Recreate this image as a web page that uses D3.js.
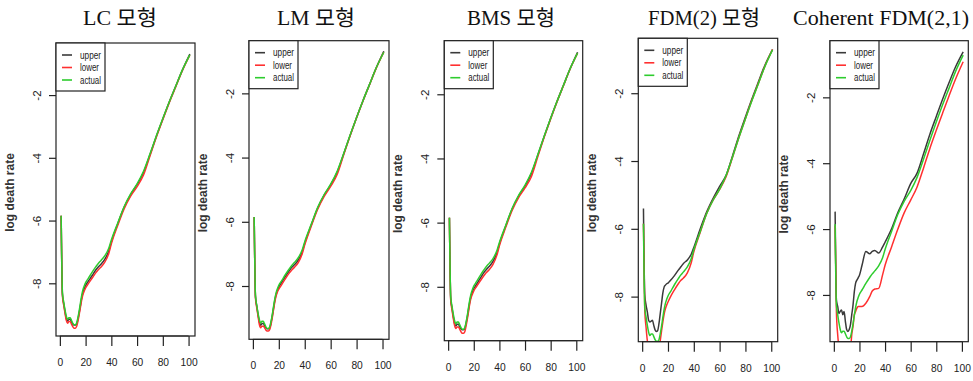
<!DOCTYPE html>
<html><head><meta charset="utf-8">
<script src="https://cdn.jsdelivr.net/npm/d3@7"></script>
<style>body{margin:0;background:#fff}svg{display:block}</style>
</head><body>
<svg id="c" width="973" height="381"></svg>
<script>
// ---------- data ----------
const ages = [1,2,3,4,5,6,7,8,9,10,11,12,13,14,15,16,17,18,19,20,22,25,28,30,32,35,38,40,45,50,55,60,65,70,75,80,85,90,95,101];
const actual = [-5.85,-8.3,-8.6,-8.85,-9.05,-9.15,-9.1,-9.1,-9.18,-9.27,-9.32,-9.32,-9.27,-9.1,-8.88,-8.62,-8.38,-8.2,-8.08,-7.98,-7.85,-7.65,-7.47,-7.36,-7.27,-7.12,-6.88,-6.62,-6.08,-5.55,-5.15,-4.83,-4.43,-3.88,-3.3,-2.75,-2.22,-1.72,-1.22,-0.72];

const upperLC = [-5.85,-8.35,-8.65,-8.9,-9.12,-9.2,-9.15,-9.15,-9.23,-9.3,-9.33,-9.33,-9.3,-9.15,-8.94,-8.7,-8.46,-8.28,-8.16,-8.07,-7.94,-7.76,-7.57,-7.47,-7.39,-7.23,-6.97,-6.68,-6.1,-5.57,-5.17,-4.85,-4.47,-3.9,-3.31,-2.76,-2.22,-1.72,-1.22,-0.69];
const lowerLC = [-5.85,-8.4,-8.7,-8.95,-9.18,-9.27,-9.22,-9.22,-9.3,-9.38,-9.43,-9.43,-9.38,-9.22,-9.0,-8.76,-8.52,-8.35,-8.24,-8.15,-8.02,-7.84,-7.66,-7.56,-7.48,-7.32,-7.05,-6.74,-6.15,-5.62,-5.22,-4.92,-4.55,-3.94,-3.34,-2.78,-2.24,-1.74,-1.24,-0.73];

const upperLM = [-5.85,-8.33,-8.63,-8.9,-9.12,-9.22,-9.17,-9.16,-9.24,-9.3,-9.33,-9.33,-9.3,-9.14,-8.92,-8.67,-8.43,-8.25,-8.13,-8.03,-7.9,-7.71,-7.53,-7.42,-7.34,-7.19,-6.94,-6.67,-6.1,-5.57,-5.17,-4.85,-4.46,-3.89,-3.31,-2.75,-2.22,-1.72,-1.22,-0.69];
const lowerLM = [-5.85,-8.38,-8.68,-8.95,-9.2,-9.3,-9.25,-9.25,-9.3,-9.37,-9.4,-9.4,-9.35,-9.2,-8.98,-8.72,-8.48,-8.3,-8.18,-8.1,-7.97,-7.78,-7.6,-7.5,-7.42,-7.27,-7.0,-6.72,-6.14,-5.61,-5.21,-4.9,-4.53,-3.92,-3.32,-2.76,-2.23,-1.73,-1.23,-0.72];

const upperBMS = [-5.85,-8.36,-8.66,-8.92,-9.14,-9.22,-9.17,-9.17,-9.25,-9.31,-9.34,-9.34,-9.3,-9.14,-8.93,-8.68,-8.44,-8.27,-8.15,-8.06,-7.93,-7.74,-7.55,-7.45,-7.37,-7.21,-6.95,-6.67,-6.1,-5.57,-5.17,-4.86,-4.47,-3.89,-3.31,-2.75,-2.22,-1.72,-1.22,-0.69];
const lowerBMS = [-5.85,-8.42,-8.72,-8.98,-9.2,-9.3,-9.25,-9.25,-9.32,-9.4,-9.45,-9.45,-9.4,-9.22,-9.0,-8.75,-8.5,-8.33,-8.22,-8.13,-8.0,-7.82,-7.65,-7.55,-7.47,-7.3,-7.02,-6.72,-6.14,-5.61,-5.22,-4.92,-4.56,-3.94,-3.33,-2.77,-2.23,-1.73,-1.23,-0.72];

const upperFDM = [-5.4,-7.95,-8.25,-8.45,-8.7,-8.75,-8.72,-8.7,-8.85,-8.98,-9.03,-9.0,-8.8,-8.5,-8.2,-7.9,-7.72,-7.66,-7.62,-7.6,-7.52,-7.38,-7.22,-7.12,-7.02,-6.92,-6.75,-6.55,-6.0,-5.5,-5.1,-4.75,-4.42,-3.85,-3.25,-2.7,-2.17,-1.67,-1.18,-0.71];
const lowerFDM = [-5.85,-8.4,-8.9,-9.3,-9.5,-9.6,-9.58,-9.55,-9.6,-9.65,-9.68,-9.66,-9.55,-9.3,-9.02,-8.75,-8.52,-8.36,-8.25,-8.16,-8.0,-7.8,-7.62,-7.52,-7.45,-7.3,-7.0,-6.68,-6.1,-5.55,-5.15,-4.84,-4.46,-3.89,-3.3,-2.75,-2.21,-1.71,-1.21,-0.71];

const upperCFDM = [-5.47,-8.15,-8.35,-8.56,-8.5,-8.46,-8.6,-8.5,-8.8,-9.05,-9.11,-9.05,-8.9,-8.6,-8.3,-7.9,-7.64,-7.55,-7.48,-7.4,-7.1,-6.68,-6.75,-6.68,-6.65,-6.73,-6.55,-6.4,-6.0,-5.5,-5.08,-4.62,-4.3,-3.72,-3.12,-2.58,-2.05,-1.55,-1.08,-0.62];
const lowerCFDM = [-5.9,-8.5,-9.2,-9.6,-9.8,-9.9,-9.85,-9.85,-9.9,-10.0,-10.0,-9.9,-9.7,-9.2,-8.95,-8.6,-8.5,-8.4,-8.35,-8.35,-8.35,-8.25,-8.05,-7.88,-7.82,-7.8,-7.4,-7.1,-6.55,-6.0,-5.5,-5.12,-4.72,-4.15,-3.55,-3.0,-2.47,-1.95,-1.45,-0.92];

const titles = ["LC  모형", "LM  모형", "BMS  모형", "FDM(2)  모형", "Coherent  FDM(2,1)"];
const uppers = [upperLC, upperLM, upperBMS, upperFDM, upperCFDM];
const lowers = [lowerLC, lowerLM, lowerBMS, lowerFDM, lowerCFDM];
const xTicks = [0, 20, 40, 60, 80, 100];
const yTicks = [-2, -4, -6, -8];
const legendLabels = ["upper", "lower", "actual"];
const yTitle = "log death rate";

// ---------- layout (positions only) ----------
const layout = [
  {box:[56,43,195,336],          yDom:[-9.68,-0.34], tx:120, tw:74},
  {box:[249,40.7,389,339.3],     yDom:[-9.66,-0.36], tx:316, tw:78},
  {box:[444.3,40.7,582.7,340.7], yDom:[-9.68,-0.33], tx:511, tw:88},
  {box:[638.3,38.3,777.7,341.7], yDom:[-9.33,-0.38], tx:704, tw:112},
  {box:[830,40.7,968.3,341.7],   yDom:[-9.42,-0.28], tx:881, tw:176}
];
const colors = {upper:"#3a3a3a", lower:"#ff3030", actual:"#2ecc2e"};
const legendTextW = {upper:21, lower:19, actual:21};
const xDom = [-3, 105];

const svg = d3.select("#c");
const defs = svg.append("defs");

layout.forEach((L, i) => {
  const [x0, y0, x1, y1] = L.box;
  const x = d3.scaleLinear().domain(xDom).range([x0, x1]);
  const y = d3.scaleLinear().domain(L.yDom).range([y1, y0]);
  const g = svg.append("g");

  // title
  g.append("text").attr("x", L.tx).attr("y", 25)
    .attr("text-anchor", "middle")
    .attr("font-family", "'Liberation Serif','Noto Sans CJK KR',serif")
    .attr("font-size", 21).attr("fill", "#111")
    .attr("textLength", L.tw).attr("lengthAdjust", "spacingAndGlyphs")
    .text(titles[i]);

  // clip
  const cid = "clip" + i;
  defs.append("clipPath").attr("id", cid).append("rect")
    .attr("x", x0).attr("y", y0).attr("width", x1 - x0).attr("height", y1 - y0);

  // series
  const line = d3.line().x((d, k) => x(ages[k])).y(d => y(d)).curve(d3.curveMonotoneX);
  const series = [["upper", uppers[i]], ["lower", lowers[i]], ["actual", actual]];
  const lg = g.append("g").attr("clip-path", `url(#${cid})`);
  series.forEach(([name, vals]) => {
    lg.append("path").datum(vals).attr("d", line)
      .attr("fill", "none").attr("stroke", colors[name])
      .attr("stroke-width", 1.5).attr("stroke-linejoin", "round");
  });

  // box
  g.append("rect").attr("x", x0).attr("y", y0).attr("width", x1 - x0).attr("height", y1 - y0)
    .attr("fill", "none").attr("stroke", "#222").attr("stroke-width", 1.2);

  // x axis
  const xa = g.append("g").attr("transform", `translate(0,${y1})`)
    .call(d3.axisBottom(x).tickValues(xTicks).tickSize(10).tickPadding(12).tickFormat(d3.format("d")));
  xa.select(".domain").attr("d", `M${x(0)},0H${x(100)}`).attr("stroke", "#222");
  xa.selectAll(".tick line").attr("stroke", "#222").attr("stroke-width", 1.2);
  xa.selectAll("text").attr("font-family", "'Liberation Sans',Arial,sans-serif")
    .attr("font-size", 11.5).attr("fill", "#222")
    .attr("textLength", d => String(d).length * 5.7).attr("lengthAdjust", "spacingAndGlyphs");

  // y axis
  const ya = g.append("g").attr("transform", `translate(${x0},0)`)
    .call(d3.axisLeft(y).tickValues(yTicks).tickSize(7).tickFormat(d => String(d)));
  ya.select(".domain").remove();
  ya.selectAll(".tick line").attr("stroke", "#222").attr("stroke-width", 1.2);
  ya.selectAll("text").attr("font-family", "'Liberation Sans',Arial,sans-serif")
    .attr("font-size", 11.5).attr("fill", "#222")
    .attr("text-anchor", "middle").attr("x", 0).attr("dy", 0)
    .attr("transform", "translate(-15,0) rotate(-90)");

  // y title
  g.append("text")
    .attr("transform", `translate(${x0 - 42},${(y0 + y1) / 2 + 3}) rotate(-90)`)
    .attr("text-anchor", "middle")
    .attr("font-family", "'Liberation Sans',Arial,sans-serif")
    .attr("font-size", 12).attr("font-weight", "bold").attr("fill", "#333")
    .text(yTitle);

  // legend
  const leg = g.append("g").attr("transform", `translate(${x0},${y0})`);
  leg.append("rect").attr("x", 0).attr("y", 0).attr("width", 49).attr("height", 48)
    .attr("fill", "#fff").attr("stroke", "#222").attr("stroke-width", 1.2);
  legendLabels.forEach((lab, k) => {
    const yy = 12 + k * 12.5;
    leg.append("line").attr("x1", 6).attr("x2", 16).attr("y1", yy).attr("y2", yy)
      .attr("stroke", colors[lab]).attr("stroke-width", 1.6);
    leg.append("text").attr("x", 24).attr("y", yy + 3.5)
      .attr("font-family", "'Liberation Sans',Arial,sans-serif")
      .attr("font-size", 10).attr("fill", "#222")
      .attr("textLength", legendTextW[lab]).attr("lengthAdjust", "spacingAndGlyphs")
      .text(lab);
  });
});
</script>
</body></html>
